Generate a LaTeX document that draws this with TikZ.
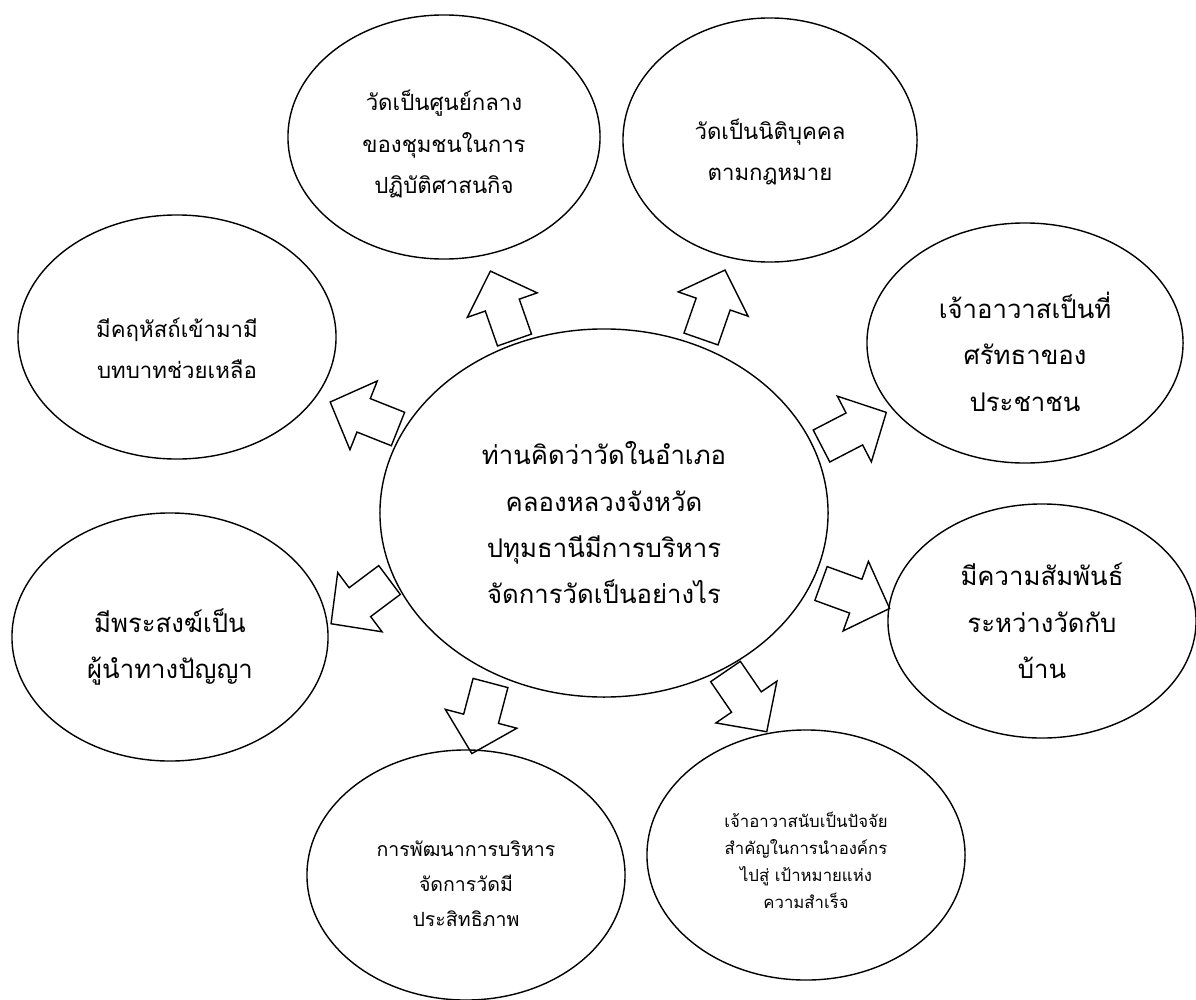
\documentclass[tikz,border=0pt]{standalone}
\usepackage{fontspec}
\setmainfont[Script=Thai]{Loma}
\usetikzlibrary{shapes.geometric}

\begin{document}
\begin{tikzpicture}[x=0.025cm, y=-0.025cm,
  bubble/.style={ellipse, draw, line width=1pt, inner sep=0pt},
  bigtext/.style={align=center, font=\fontsize{18.3}{33}\selectfont},
  midtext/.style={align=center, font=\fontsize{15.8}{29.5}\selectfont},
  smalltext/.style={align=center, font=\fontsize{13.9}{25}\selectfont},
  tinytext/.style={align=center, font=\fontsize{11.9}{19.2}\selectfont},
  blockarrow/.pic={\filldraw[fill=white, line width=1pt, line join=miter]
    (0,-18) -- (37,-18) -- (37,-37) -- (73,0) -- (37,37) -- (37,18) -- (0,18) -- cycle;}]
\useasboundingbox (0,0) rectangle (1196,999);

\pic[rotate=109.3] at (514.5,340) {blockarrow};
\pic[rotate=70.8] at (701,339) {blockarrow};
\pic[rotate=158.3] at (398,429) {blockarrow};
\pic[rotate=216.8] at (389.5,580) {blockarrow};
\pic[rotate=27.4] at (821.5,446) {blockarrow};
\pic[rotate=-20] at (821,583.5) {blockarrow};
\pic[rotate=255.2] at (490.5,683) {blockarrow};
\pic[rotate=-55.6] at (725.5,671.5) {blockarrow};

\node[bubble, minimum width=11.2cm, minimum height=9.2cm,
  label={[bigtext, yshift=-7pt]center:ท่านคิดว่าวัดในอำเภอ\\คลองหลวงจังหวัด\\ปทุมธานีมีการบริหาร\\จัดการวัดเป็นอย่างไร}]
  (q) at (604,513) {};

\node[bubble, minimum width=7.8cm, minimum height=6.1cm,
  label={[midtext, yshift=-5pt]center:วัดเป็นศูนย์กลาง\\ของชุมชนในการ\\ปฏิบัติศาสนกิจ}]
  (c1) at (444,137) {};
\node[bubble, minimum width=7.35cm, minimum height=6.1cm,
  label={[midtext, yshift=-8.5pt]center:วัดเป็นนิติบุคคล\\ตามกฎหมาย}]
  (c2) at (770,140) {};
\node[bubble, minimum width=7.95cm, minimum height=6.1cm,
  label={[midtext, yshift=-8pt]center:มีคฤหัสถ์เข้ามามี\\บทบาทช่วยเหลือ}]
  (c3) at (177,337) {};
\node[bubble, minimum width=7.9cm, minimum height=6cm,
  label={[bigtext, yshift=-6pt]center:เจ้าอาวาสเป็นที่\\ศรัทธาของ\\ประชาชน}]
  (c4) at (1025,343) {};
\node[bubble, minimum width=7.9cm, minimum height=6.2cm,
  label={[bigtext, yshift=-7pt]center:มีพระสงฆ์เป็น\\ผู้นำทางปัญญา}]
  (c5) at (170,637) {};
\node[bubble, minimum width=7.7cm, minimum height=5.85cm,
  label={[bigtext]center:มีความสัมพันธ์\\ระหว่างวัดกับ\\บ้าน}]
  (c6) at (1042,621) {};
\node[bubble, minimum width=7.95cm, minimum height=6.25cm,
  label={[smalltext, yshift=-6pt]center:การพัฒนาการบริหาร\\จัดการวัดมี\\ประสิทธิภาพ}]
  (c7) at (466,875) {};
\node[bubble, minimum width=7.95cm, minimum height=6.25cm,
  label={[tinytext, yshift=-4pt]center:เจ้าอาวาสนับเป็นปัจจัย\\สำคัญในการนำองค์กร\\ไปสู่ เป้าหมายแห่ง\\ความสำเร็จ}]
  (c8) at (806,855) {};
\end{tikzpicture}
\end{document}
